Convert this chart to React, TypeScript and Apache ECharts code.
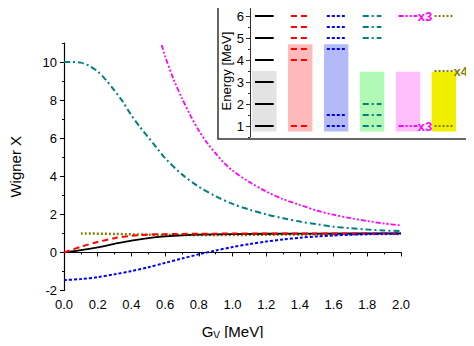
import React, { useEffect, useRef } from "react";
import * as echarts from "echarts";

// ---- main plot data (G_V in MeV, Wigner X) ----
const gvBlack = [0, 0.1, 0.2, 0.3, 0.4, 0.5, 0.6, 0.7, 0.8, 1.0, 1.2, 1.5, 2.0];
const black = [0, 0.12, 0.27, 0.45, 0.62, 0.75, 0.84, 0.9, 0.93, 0.96, 0.98, 0.99, 1.0];

const gvRed = [0, 0.1, 0.2, 0.3, 0.4, 0.5, 0.6, 0.8, 1.0, 1.5, 2.0];
const red = [0, 0.3, 0.55, 0.75, 0.87, 0.93, 0.96, 0.98, 0.99, 1.0, 1.0];

const gvBlue = [0, 0.1, 0.2, 0.3, 0.4, 0.5, 0.6, 0.7, 0.8, 0.9, 1.0, 1.1, 1.2, 1.3, 1.4, 1.5, 1.6, 1.7, 1.8, 1.9, 2.0];
const blue = [-1.45, -1.4, -1.3, -1.15, -0.98, -0.78, -0.55, -0.32, -0.1, 0.1, 0.28, 0.44, 0.57, 0.68, 0.77, 0.84, 0.89, 0.93, 0.96, 0.98, 0.99];

const gvTeal = [0, 0.05, 0.1, 0.15, 0.2, 0.25, 0.3, 0.35, 0.4, 0.45, 0.5, 0.55, 0.6, 0.7, 0.8, 0.9, 1.0, 1.1, 1.2, 1.3, 1.4, 1.5, 1.6, 1.7, 1.8, 1.9, 2.0];
const teal = [10, 10, 9.97, 9.8, 9.5, 9.05, 8.5, 7.9, 7.2, 6.6, 6.05, 5.5, 4.95, 4.1, 3.45, 2.95, 2.55, 2.25, 2.0, 1.8, 1.62, 1.48, 1.35, 1.27, 1.2, 1.15, 1.12];

const gvMagenta = [0.58, 0.6, 0.65, 0.7, 0.75, 0.8, 0.85, 0.9, 0.95, 1.0, 1.1, 1.2, 1.3, 1.4, 1.5, 1.6, 1.7, 1.8, 1.9, 2.0];
const magenta = [10.9, 10.3, 9.1, 8.1, 7.2, 6.4, 5.75, 5.2, 4.7, 4.3, 3.7, 3.2, 2.8, 2.5, 2.2, 1.98, 1.8, 1.65, 1.52, 1.42];

const gvOlive = [0.1, 0.3, 0.5, 0.7, 0.9, 1.2, 1.5, 2.0];
const olive = [1.0, 0.97, 0.93, 0.91, 0.91, 0.93, 0.95, 0.97];

const xTicks = [0, 0.2, 0.4, 0.6, 0.8, 1.0, 1.2, 1.4, 1.6, 1.8, 2.0];
const yMajor = [-2, 0, 2, 4, 6, 8, 10];
const yMinor = [-1, 1, 3, 5, 7, 9, 11];

// ---- inset data (energy levels, MeV) ----
const insetColumns = [1, 2, 3, 4, 5, 6];
const levelsBlack = [1, 2, 3, 4, 5, 6];
const levelsRed = [1, 4, 4.5, 5, 5.5, 6];
const levelsBlue = [1, 1.5, 4.5, 5, 5.5, 6];
const levelsTeal = [1, 1.5, 2, 5, 5.5, 6];
const levelsMagenta = [1, 6];
const levelsOlive = [1, 3.5, 6];
const boxTops = [3.5, 4.72, 4.72, 3.47, 3.47, 3.47];
const boxBottom = 0.75;
const insetMajor = [1, 2, 3, 4, 5, 6];
const insetMinor = [0.5, 1.5, 2.5, 3.5, 4.5, 5.5, 6.5];
const multLabels: [number, number, string][] = [
  [5, 6, "x3"],
  [5, 1, "x3"],
  [6, 3.5, "x4"],
];

const FONT = "Liberation Sans, Arial, sans-serif";
const lineColors = ["#000000", "#ff0000", "#0000ff", "#008080", "#ff00ff", "#808000"];
const boxColors = ["#e3e3e3", "#ffb9b9", "#b4b9f7", "#b0f9b4", "#ffbdfc", "#f0ef00"];
const dashes: (number[] | null)[] = [null, [6, 4], [3, 2], [6, 3, 2, 3], [5, 2, 2, 2, 2, 2], [2, 2]];

function zip(xs: number[], ys: number[]) {
  return xs.map((x, i) => [x, ys[i]]);
}

export default function App() {
  const ref = useRef<HTMLDivElement>(null);
  useEffect(() => {
    if (!ref.current) return;
    const chart = echarts.init(ref.current, null, { renderer: "svg" });

    const mainLine = (name: string, data: number[][], idx: number, width: number) => ({
      name,
      type: "line",
      xAxisIndex: 0,
      yAxisIndex: 0,
      data,
      smooth: 0.3,
      showSymbol: false,
      symbol: "none",
      lineStyle: {
        color: lineColors[idx],
        width,
        type: dashes[idx] ? dashes[idx] : "solid",
      },
      z: 3,
    });

    const levelLists = [levelsBlack, levelsRed, levelsBlue, levelsTeal, levelsMagenta, levelsOlive];
    const levelData: number[][] = [];
    levelLists.forEach((lv, ci) => lv.forEach((e) => levelData.push([insetColumns[ci], e, ci])));
    const boxData = insetColumns.map((c, i) => [c, boxBottom, boxTops[i], i]);

    const option: any = {
      animation: false,
      textStyle: { fontFamily: FONT },
      grid: [
        { left: 63, right: 73, top: 43, bottom: 55.5 },
        { left: 250, right: 5, top: 5, bottom: 209 },
      ],
      xAxis: [
        {
          gridIndex: 0,
          type: "value",
          min: 0,
          max: 2,
          interval: 0.2,
          name: "G{sub|V} [MeV]",
          nameLocation: "middle",
          nameGap: 31,
          nameTextStyle: {
            fontSize: 15,
            color: "#000",
            fontFamily: FONT,
            rich: { sub: { fontSize: 10, verticalAlign: "bottom", padding: [9, 0, 0, 0], fontFamily: FONT } },
          },
          axisLine: { show: true, lineStyle: { color: "#000", width: 1.2 } },
          axisTick: { show: true, inside: false, length: 4, lineStyle: { color: "#000" } },
          minorTick: { show: true, splitNumber: 2, length: 2, lineStyle: { color: "#000" } },
          axisLabel: {
            fontSize: 13,
            color: "#000",
            margin: 7,
            fontFamily: FONT,
            formatter: (v: number) => v.toFixed(1),
          },
          splitLine: { show: false },
        },
        {
          gridIndex: 1,
          type: "value",
          min: 0.6,
          max: 6.7,
          show: false,
        },
      ],
      yAxis: [
        {
          gridIndex: 0,
          type: "value",
          min: -2,
          max: 11,
          interval: 2,
          name: "Wigner X",
          nameLocation: "middle",
          nameGap: 41,
          nameRotate: 90,
          nameTextStyle: { fontSize: 15, color: "#000", fontFamily: FONT },
          axisLine: { show: true, lineStyle: { color: "#000", width: 1.2 } },
          axisTick: { show: true, length: 4, customValues: yMajor, lineStyle: { color: "#000" } },
          axisLabel: { fontSize: 13, color: "#000", margin: 7, customValues: yMajor, fontFamily: FONT },
          splitLine: { show: false },
        },
        {
          gridIndex: 0,
          type: "value",
          position: "left",
          min: -2,
          max: 11,
          interval: 2,
          axisLine: { show: false },
          axisTick: { show: true, length: 2, customValues: yMinor, lineStyle: { color: "#000" } },
          axisLabel: { show: false },
          splitLine: { show: false },
        },
        {
          gridIndex: 1,
          type: "value",
          min: 0.5,
          max: 6.5,
          interval: 0.5,
          name: "Energy [MeV]",
          nameLocation: "middle",
          nameGap: 17,
          nameRotate: 90,
          nameTextStyle: { fontSize: 13, color: "#000", fontFamily: FONT },
          axisLine: { show: true, lineStyle: { color: "#333", width: 1 } },
          axisTick: { show: true, length: 4, customValues: insetMajor, lineStyle: { color: "#333" } },
          axisLabel: { fontSize: 13, color: "#000", margin: 6, customValues: insetMajor, fontFamily: FONT },
          splitLine: { show: false },
        },
        {
          gridIndex: 1,
          type: "value",
          position: "left",
          min: 0.5,
          max: 6.5,
          interval: 0.5,
          axisLine: { show: false },
          axisTick: { show: true, length: 2, customValues: insetMinor, lineStyle: { color: "#333" } },
          axisLabel: { show: false },
          splitLine: { show: false },
        },
      ],
      graphic: [
        {
          type: "rect",
          shape: { x: 218, y: 4, width: 251, height: 135 },
          style: { fill: "none", stroke: "#333", lineWidth: 1.5 },
          z: 10,
        },
      ],
      series: [
        mainLine("olive", zip(gvOlive, olive), 5, 2.5),
        mainLine("black", zip(gvBlack, black), 0, 1.8),
        mainLine("red", zip(gvRed, red), 1, 2),
        mainLine("blue", zip(gvBlue, blue), 2, 2),
        mainLine("teal", zip(gvTeal, teal), 3, 2),
        mainLine("magenta", zip(gvMagenta, magenta), 4, 1.8),
        {
          type: "custom",
          xAxisIndex: 1,
          yAxisIndex: 2,
          data: boxData,
          z: 2,
          renderItem: (params: any, api: any) => {
            const c = api.value(0);
            const p1 = api.coord([c - 0.34, api.value(2)]);
            const p2 = api.coord([c + 0.34, api.value(1)]);
            return {
              type: "rect",
              shape: { x: p1[0], y: p1[1], width: p2[0] - p1[0], height: p2[1] - p1[1] },
              style: { fill: boxColors[api.value(3)] },
            };
          },
        },
        {
          type: "custom",
          xAxisIndex: 1,
          yAxisIndex: 2,
          data: levelData,
          z: 3,
          renderItem: (params: any, api: any) => {
            const c = api.value(0);
            const e = api.value(1);
            const k = api.value(2);
            const a = api.coord([c - 0.26, e]);
            const b = api.coord([c + 0.26, e]);
            return {
              type: "line",
              shape: { x1: a[0], y1: a[1], x2: b[0], y2: b[1] },
              style: {
                stroke: lineColors[k],
                lineWidth: 2,
                lineDash: dashes[k] ? dashes[k] : null,
              },
            };
          },
        },
        {
          type: "custom",
          xAxisIndex: 1,
          yAxisIndex: 2,
          data: multLabels.map((m) => [m[0], m[1], m[2]]),
          z: 4,
          renderItem: (params: any, api: any) => {
            const c = api.value(0);
            const e = api.value(1);
            const t = multLabels[params.dataIndex][2];
            const p = api.coord([c + 0.27, e]);
            return {
              type: "text",
              x: p[0],
              y: p[1],
              style: {
                text: t,
                fill: lineColors[c - 1],
                font: `bold 13px ${FONT}`,
                textAlign: "left",
                textVerticalAlign: "middle",
              },
            };
          },
        },
      ],
    };
    chart.setOption(option);
    return () => chart.dispose();
  }, []);
  return <div ref={ref} style={{ width: 474, height: 346, margin: -8 }} />;
}
